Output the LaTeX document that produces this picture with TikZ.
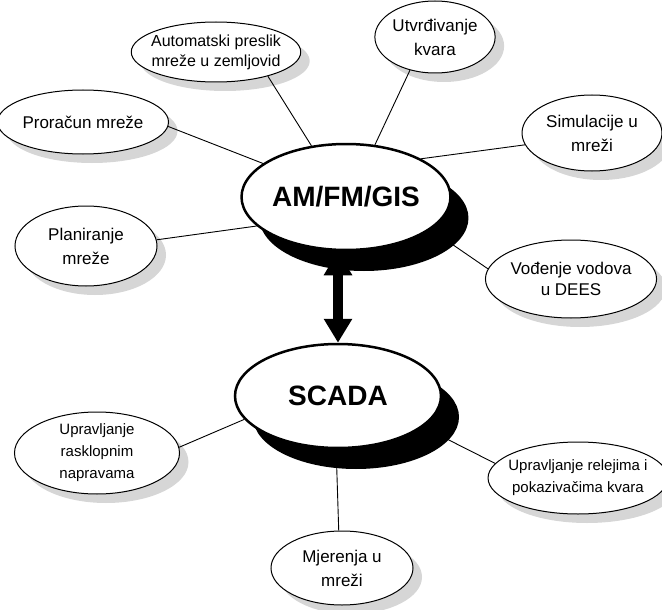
\documentclass[tikz,border=0pt]{standalone}
\usepackage{fontspec}
\setmainfont{Liberation Sans}
\usetikzlibrary{shapes.geometric,shadows,arrows.meta}

\begin{document}
\begin{tikzpicture}[x=1pt,y=-1pt,
  task/.style={ellipse, draw, line width=1pt, fill=white, align=center, inner sep=0pt,
    font=\fontsize{17}{24}\selectfont,
    drop shadow={shadow xshift=9pt, shadow yshift=-9pt, fill=black!16, opacity=1}},
  hub/.style={ellipse, draw, line width=2.5pt, fill=white, inner sep=0pt,
    font=\fontsize{28}{30}\selectfont\bfseries,
    drop shadow={shadow xshift=18pt, shadow yshift=-21pt, fill=black, opacity=1}},
  link/.style={line width=0.9pt}]

\useasboundingbox (0,0) rectangle (662,610);

% central systems
\node[hub, minimum width=198pt, minimum height=106pt] (gis) at (346,197) {AM/FM/GIS};
\node[hub, minimum width=206pt, minimum height=104pt] (scada) at (338,396) {SCADA};

% AM/FM/GIS tasks
\node[task, font=\fontsize{16}{20}\selectfont, inner xsep=-5pt, minimum width=165pt, minimum height=60pt] (pres) at (216,52) {Automatski preslik\\mreže u zemljovid};
\node[task, minimum width=112pt, minimum height=72pt] (utv) at (435,37) {Utvrđivanje\\kvara};
\node[task, minimum width=142pt, minimum height=64pt] (pror) at (83,122) {Proračun mreže};
\node[task, minimum width=140pt, minimum height=76pt] (sim) at (592,133) {Simulacije u\\mreži};
\node[task, minimum width=142pt, minimum height=80pt] (plan) at (86,246) {Planiranje\\mreže};
\node[task, font=\fontsize{17}{21}\selectfont, minimum width=148pt, minimum height=78pt] (vod) at (571,279) {Vođenje vodova\\u DEES};

% SCADA tasks
\node[task, font=\fontsize{15}{22}\selectfont, minimum width=165pt, minimum height=76pt] (rask) at (97,453) {Upravljanje\\rasklopnim\\napravama};
\node[task, font=\fontsize{15}{22}\selectfont, inner xsep=-6pt, minimum width=165pt, minimum height=72pt] (rel) at (578,478) {Upravljanje relejima i\\pokazivačima kvara};
\node[task, minimum width=142pt, minimum height=74pt] (mjer) at (342,568) {Mjerenja u\\mreži};

\draw[link] (pres.-25) -- (gis.124);
\draw[link] (utv.-127) -- (gis.61);
\draw[link] (pror.-3) -- (gis.158);
\draw[link] (sim.190) -- (gis.27);
\draw[link] (plan.5) -- (gis.198);
\draw[link] (vod.173) -- (gis.-21);
\draw[link] (rask.4) -- (scada.194);
\draw[link] (rel.170) -- (scada.-20);
\draw[link] (scada.-92) -- (mjer.95);

\draw[line width=10pt, {Triangle[width=27pt,length=24pt]}-{Triangle[width=27pt,length=24pt]}]
  (scada.north |- gis.south) -- (scada.north);
\end{tikzpicture}
\end{document}
